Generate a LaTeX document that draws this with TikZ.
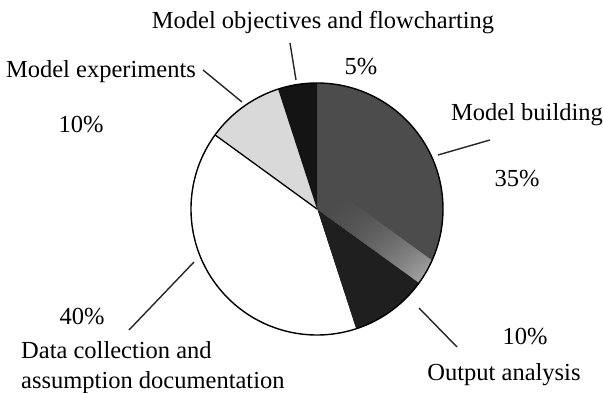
\documentclass[tikz,border=0pt]{standalone}
\usepackage{fontspec}
\setmainfont{Liberation Serif}
\usetikzlibrary{calc,fadings}
\begin{document}
\begin{tikzpicture}[x=1pt,y=1pt,
  lbl/.style={inner sep=0pt,font=\fontsize{24.5}{30}\selectfont},
  leader/.style={line width=1.4pt,black!85},
  rim/.style={line width=1.4pt,black}]
\useasboundingbox (0,0) rectangle (603,393);
\fill[white] (0,0) rectangle (603,393);
\coordinate (C) at (317,184);
\def\R{126}
% Model building 35%
\begin{scope}
  \clip (C) -- ++(90:\R) arc[start angle=90,end angle=-36,radius=\R] -- cycle;
  \fill[black!70] (C) circle[radius=\R];
  \shade[rotate around={-36:(C)},top color=black!70,bottom color=black!25,path fading=west] ($(C)+(10,0)$) rectangle ($(C)+(135,26)$);
\end{scope}
% Output analysis 10%
\fill[black!88] (C) -- ++(-36:\R) arc[start angle=-36,end angle=-72,radius=\R] -- cycle;
% Data collection 40%
\fill[white] (C) -- ++(-72:\R) arc[start angle=-72,end angle=-216,radius=\R] -- cycle;
% Model experiments 10%
\fill[black!15] (C) -- ++(144:\R) arc[start angle=144,end angle=108,radius=\R] -- cycle;
% Model objectives 5%
\fill[black!92] (C) -- ++(108:\R) arc[start angle=108,end angle=90,radius=\R] -- cycle;
% separators
\draw[line width=1.3pt] (C) -- ++(144:\R);
\draw[rim] (C) circle[radius=\R];
% labels
\node[lbl] (tobj) at (323,370) {Model objectives and flowcharting};
\node[lbl] (pobj) at (361,326) {5\%};
\node[lbl] (texp) at (101,321) {Model experiments};
\node[lbl] (pexp) at (81,268) {10\%};
\node[lbl] (tbld) at (527,278) {Model building};
\node[lbl] (pbld) at (517,214) {35\%};
\node[lbl] (pdat) at (82,76) {40\%};
\node[lbl,align=left,anchor=west] (tdat) at (21,25) {Data collection and\\assumption documentation};
\node[lbl] (pout) at (525,56) {10\%};
\node[lbl] (tout) at (504,18) {Output analysis};
% leaders
\coordinate (a1) at (290,350); \coordinate (b1) at (296,313);
\coordinate (a2) at (203,323); \coordinate (b2) at (242,291);
\coordinate (a3) at (490,253); \coordinate (b3) at (438,238);
\coordinate (a4) at (457,46);  \coordinate (b4) at (419,85);
\coordinate (a5) at (129,63);  \coordinate (b5) at (194,131);
\draw[leader] (a1) -- (b1);
\draw[leader] (a2) -- (b2);
\draw[leader] (a3) -- (b3);
\draw[leader] (a4) -- (b4);
\draw[leader] (a5) -- (b5);
\end{tikzpicture}
\end{document}
